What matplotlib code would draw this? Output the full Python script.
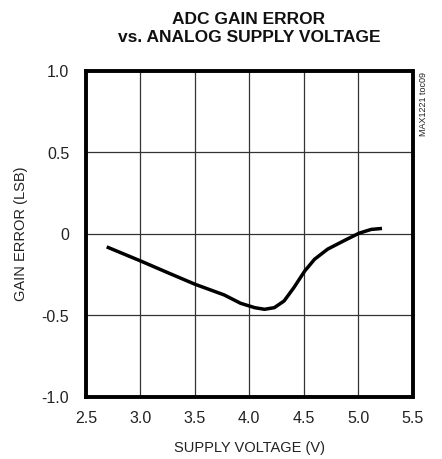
import numpy as np
import matplotlib.pyplot as plt

# -- data ---------------------------------------------------------------------
voltage = [2.69, 3.00, 3.25, 3.50, 3.77, 3.92, 4.05, 4.14, 4.23, 4.32,
           4.41, 4.51, 4.60, 4.72, 4.88, 5.01, 5.12, 5.22]
gain_error = [-0.082, -0.168, -0.240, -0.311, -0.377, -0.428, -0.455, -0.465,
              -0.455, -0.414, -0.332, -0.230, -0.158, -0.096, -0.041, 0.002,
              0.025, 0.031]
x_ticks = [2.5, 3.0, 3.5, 4.0, 4.5, 5.0, 5.5]
y_ticks = [-1.0, -0.5, 0, 0.5, 1.0]
y_tick_labels = ["-1.0", "-0.5", "0", "0.5", "1.0"]

plt.rcParams["font.family"] = ["Liberation Sans", "DejaVu Sans"]

fig = plt.figure(figsize=(4.42, 4.60), dpi=100)
ax = fig.add_axes([86 / 442, 1 - 397.5 / 460, 326.5 / 442, 326 / 460])

ax.plot(voltage, gain_error, color="black", lw=2.5, solid_capstyle="butt",
        solid_joinstyle="round")

ax.set_xlim(2.5, 5.5)
ax.set_ylim(-1.0, 1.0)
ax.set_xticks(x_ticks)
ax.set_xticklabels([f"{v:.1f}" for v in x_ticks])
ax.set_yticks(y_ticks)
ax.set_yticklabels(y_tick_labels)
ax.tick_params(length=0, labelsize=11.5, labelcolor="#222222")
ax.tick_params(axis="y", pad=12)
ax.tick_params(axis="x", pad=10)
ax.grid(True, color="#333333", lw=0.9)
for s in ax.spines.values():
    s.set_linewidth(2.8)
    s.set_color("black")

fig.text(250 / 442, 1 - 448 / 460, "SUPPLY VOLTAGE (V)", ha="center",
         va="center", fontsize=10.5, color="#222222")
fig.text(21 / 442, 1 - 234 / 460, "GAIN ERROR (LSB)", ha="center",
         va="center", rotation=90, fontsize=10.5, color="#222222")

fig.text(249 / 442, 1 - 19 / 460, "ADC GAIN ERROR", ha="center",
         va="center", fontsize=12.5, fontweight="bold", color="#111111")
fig.text(249 / 442, 1 - 37 / 460, "vs. ANALOG SUPPLY VOLTAGE", ha="center",
         va="center", fontsize=12.5, fontweight="bold", color="#111111")
fig.text(424 / 442, 1 - 72 / 460, "MAX1221 toc09", rotation=90, ha="center",
         va="top", fontsize=6.5, color="#222222")

fig.savefig("out.png", dpi=100)
